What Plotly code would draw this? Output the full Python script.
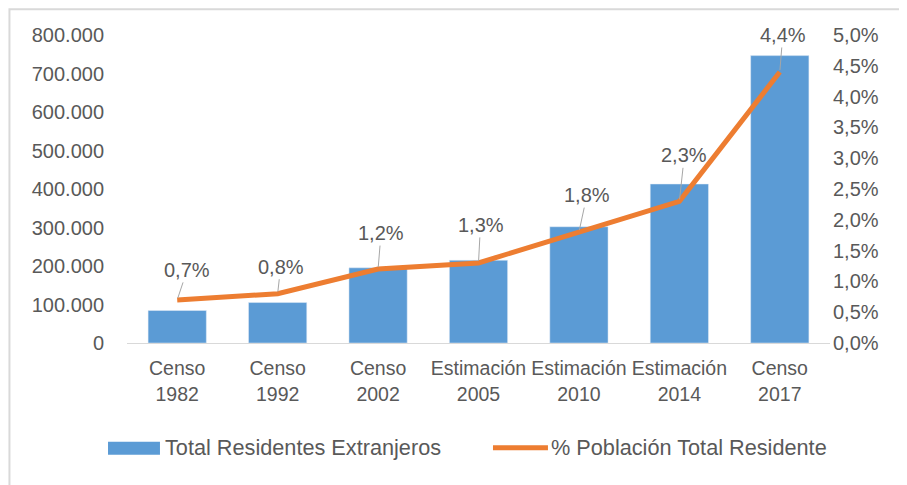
import plotly.graph_objects as go

# datos
categorias = ["Censo<br>1982", "Censo<br>1992", "Censo<br>2002", "Estimación<br>2005",
              "Estimación<br>2010", "Estimación<br>2014", "Censo<br>2017"]
residentes = [84345, 105070, 195320, 215000, 302000, 413000, 746465]
pct_poblacion = [0.7, 0.8, 1.2, 1.3, 1.8, 2.3, 4.4]
pct_labels = ["0,7%", "0,8%", "1,2%", "1,3%", "1,8%", "2,3%", "4,4%"]

left_ticks = [0, 100000, 200000, 300000, 400000, 500000, 600000, 700000, 800000]
left_tick_text = ["0", "100.000", "200.000", "300.000", "400.000", "500.000",
                  "600.000", "700.000", "800.000"]
right_ticks = [0, 0.5, 1, 1.5, 2, 2.5, 3, 3.5, 4, 4.5, 5]
right_tick_text = ["0,0%", "0,5%", "1,0%", "1,5%", "2,0%", "2,5%", "3,0%",
                   "3,5%", "4,0%", "4,5%", "5,0%"]

# label offsets (px) for the data labels
label_dx = [10, 3, 3, 2, 8, 5, 3]
label_dy = [-30, -27, -36, -38, -37, -46, -37]

BLUE = "#5B9BD5"
ORANGE = "#ED7D31"
GREY_TXT = "#595959"
FONT = "Liberation Sans"

fig = go.Figure()
fig.add_trace(go.Bar(x=categorias, y=residentes, marker_color=BLUE,
                     name="Total Residentes Extranjeros"))
fig.add_trace(go.Scatter(x=categorias, y=pct_poblacion, yaxis="y2", mode="lines",
                         line=dict(color=ORANGE, width=5),
                         name="% Población Total Residente"))

for cat, v, t, dx, dy in zip(categorias, pct_poblacion, pct_labels, label_dx, label_dy):
    fig.add_annotation(x=cat, y=v, xref="x", yref="y2", text=t,
                       showarrow=True, arrowhead=0, arrowwidth=1,
                       arrowcolor="#A6A6A6", ax=dx, ay=dy, standoff=2,
                       font=dict(family=FONT, size=20, color=GREY_TXT))

# legend drawn by hand (wide swatches like the original)
fig.add_shape(type="rect", xref="paper", yref="paper",
              x0=-0.0270, x1=0.0469, y0=-0.321, y1=-0.363,
              fillcolor=BLUE, line_width=0)
fig.add_annotation(xref="paper", yref="paper", x=0.0512, y=-0.340,
                   xanchor="left", yanchor="middle", showarrow=False,
                   text="Total Residentes Extranjeros",
                   font=dict(family=FONT, size=21.7, color=GREY_TXT))
fig.add_shape(type="line", xref="paper", yref="paper",
              x0=0.5206, x1=0.5988, y0=-0.340, y1=-0.340,
              line=dict(color=ORANGE, width=5))
fig.add_annotation(xref="paper", yref="paper", x=0.6003, y=-0.340,
                   xanchor="left", yanchor="middle", showarrow=False,
                   text="% Población Total Residente",
                   font=dict(family=FONT, size=21.7, color=GREY_TXT))

# chart border (left and top edges visible)
fig.add_shape(type="rect", xref="paper", yref="paper",
              x0=-0.1672, x1=1.3, y0=-0.7, y1=1.084,
              line=dict(color="#D9D9D9", width=2), fillcolor="rgba(0,0,0,0)")

fig.update_layout(
    width=907, height=485,
    margin=dict(l=119, r=85, t=27, b=150),
    paper_bgcolor="white", plot_bgcolor="white",
    showlegend=False, bargap=0.42,
    font=dict(family=FONT, size=20, color=GREY_TXT),
    xaxis=dict(showgrid=False, showline=True, linecolor="#D9D9D9", linewidth=1,
               ticks="", tickfont=dict(size=19.5), ticklabelstandoff=8,
               fixedrange=True),
    yaxis=dict(range=[0, 800000], tickvals=left_ticks, ticktext=left_tick_text,
               showgrid=False, zeroline=False, ticks="", tickfont=dict(size=20),
               ticklabelstandoff=22),
    yaxis2=dict(range=[0, 5], tickvals=right_ticks, ticktext=right_tick_text,
                overlaying="y", side="right", showgrid=False, zeroline=False,
                ticks="", tickfont=dict(size=20), ticklabelstandoff=2),
)

fig.write_html("out.html")
